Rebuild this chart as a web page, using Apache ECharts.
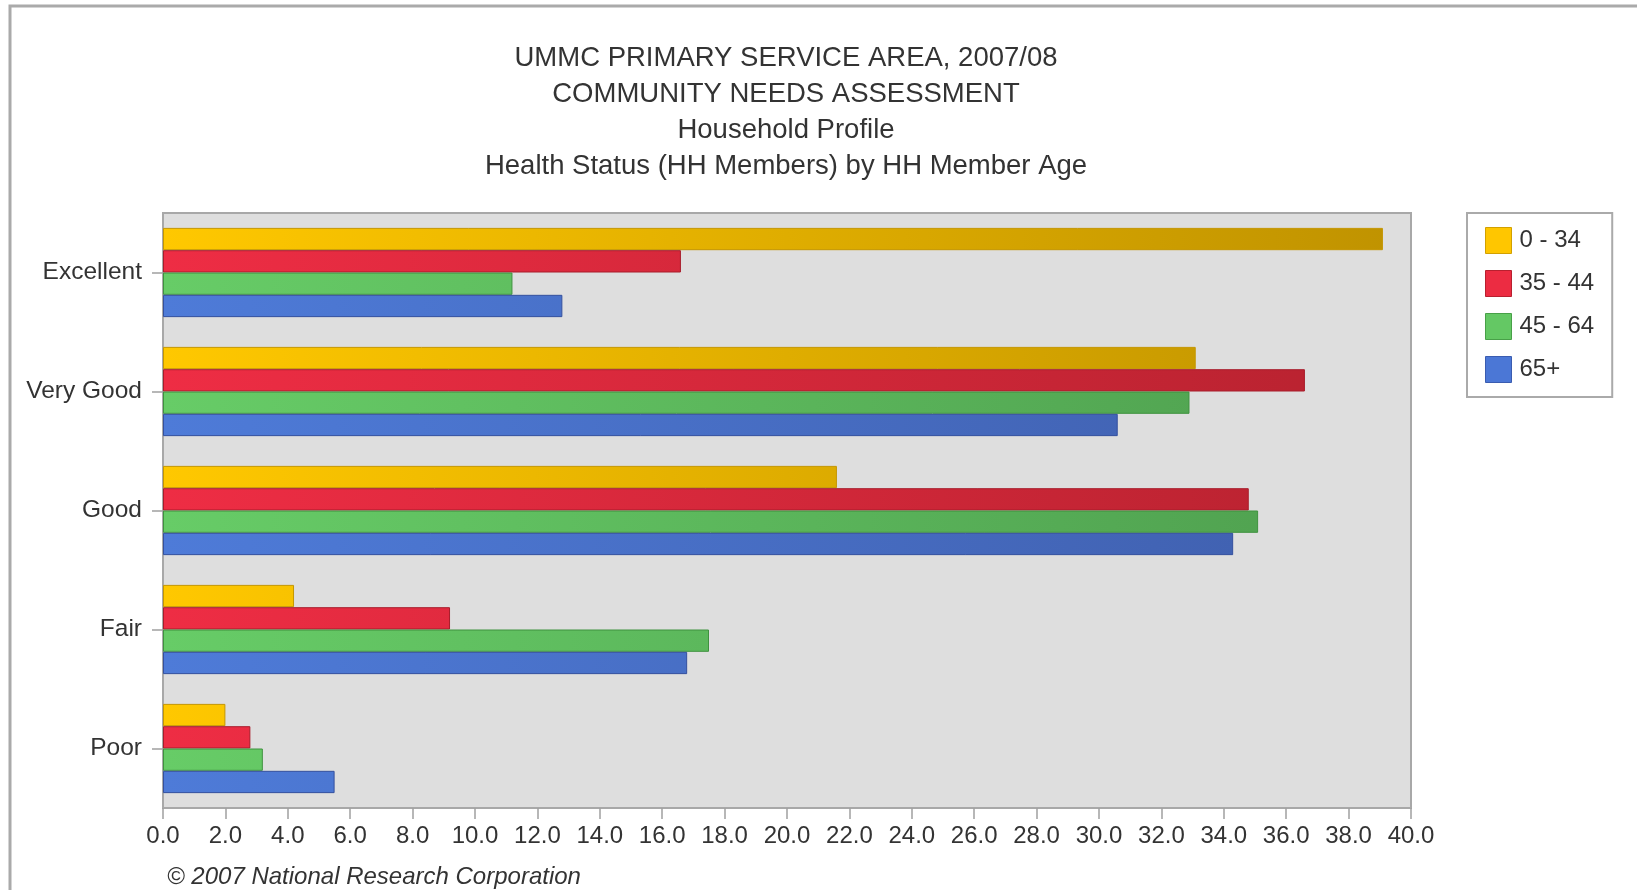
<!DOCTYPE html>
<html>
<head>
<meta charset="utf-8">
<script src="https://cdn.jsdelivr.net/npm/echarts@6/dist/echarts.min.js"></script>
<style>
  html, body { margin: 0; padding: 0; background: #ffffff; }
  #chart { width: 1637px; height: 890px; }
</style>
</head>
<body>
<div id="chart"></div>
<script>
// ---- Data ----
const categories = ['Excellent', 'Very Good', 'Good', 'Fair', 'Poor'];
const seriesNames = ['0 - 34', '35 - 44', '45 - 64', '65+'];
const age0to34 = [39.1, 33.1, 21.6, 4.2, 2.0];
const age35to44 = [16.6, 36.6, 34.8, 9.2, 2.8];
const age45to64 = [11.2, 32.9, 35.1, 17.5, 3.2];
const age65plus = [12.8, 30.6, 34.3, 16.8, 5.5];
const titleLines = [
  'UMMC PRIMARY SERVICE AREA, 2007/08',
  'COMMUNITY NEEDS ASSESSMENT',
  'Household Profile',
  'Health Status (HH Members) by HH Member Age'
];
const footerText = '\u00A9 2007 National Research Corporation';

// ---- Styling ----
const FONT = '"Liberation Sans", Arial, sans-serif';
const plotLeft = 163, plotTop = 213, plotWidth = 1248, plotHeight = 595;
const palette = [
  { light: '#FFC800', dark: '#BF9200', border: '#C49600', flat: '#FFC600', flatBorder: '#D2A000' },
  { light: '#EE2D44', dark: '#B6222F', border: '#A81C2A', flat: '#EC2C42', flatBorder: '#B8202F' },
  { light: '#67CC67', dark: '#4E9E4E', border: '#3F923F', flat: '#64C864', flatBorder: '#48A048' },
  { light: '#4E7BD8', dark: '#3F5EAC', border: '#34509E', flat: '#4B77D6', flatBorder: '#3A5CB0' }
];
const valueSets = [age0to34, age35to44, age45to64, age65plus];

function grad(p) {
  return {
    type: 'linear', x: plotLeft, y: 0, x2: plotLeft + plotWidth, y2: 0, global: true,
    colorStops: [{ offset: 0, color: p.light }, { offset: 1, color: p.dark }]
  };
}

const series = seriesNames.map((name, i) => ({
  name: name,
  type: 'bar',
  data: valueSets[i],
  barGap: '0%',
  barCategoryGap: '25%',
  itemStyle: { color: grad(palette[i]), borderColor: palette[i].border, borderWidth: 1 },
  emphasis: { disabled: true }
}));

const chart = echarts.init(document.getElementById('chart'), null, { renderer: 'canvas' });
chart.setOption({
  animation: false,
  backgroundColor: '#ffffff',
  textStyle: { fontFamily: FONT },
  title: [
    {
      text: titleLines.join('\n'),
      left: 786, top: 40, textAlign: 'center', padding: 0,
      textStyle: { fontFamily: FONT, fontSize: 27.5, fontWeight: 'normal', color: '#333333', lineHeight: 36 }
    },
    {
      text: footerText,
      left: 167, top: 865, padding: 0,
      textStyle: { fontFamily: FONT, fontSize: 24, fontWeight: 'normal', fontStyle: 'italic', color: '#333333' }
    }
  ],
  graphic: [
    {
      type: 'rect', z: -10, silent: true,
      shape: { x: 10, y: 6, width: 1800, height: 1000 },
      style: { fill: 'none', stroke: '#AAAAAA', lineWidth: 3 }
    }
  ],
  legend: {
    orient: 'vertical',
    left: 1467, top: 213,
    padding: [14, 18, 14, 18],
    itemWidth: 26, itemHeight: 26, itemGap: 16,
    borderColor: '#AAAAAA', borderWidth: 2,
    backgroundColor: '#ffffff',
    icon: 'rect',
    selectedMode: false,
    textStyle: { fontFamily: FONT, fontSize: 24, color: '#333333', padding: [0, 0, 0, 3] },
    data: seriesNames.map((n, i) => ({
      name: n,
      itemStyle: { color: palette[i].flat, borderColor: palette[i].flatBorder, borderWidth: 1 }
    }))
  },
  grid: {
    left: plotLeft, top: plotTop, width: plotWidth, height: plotHeight,
    show: true, backgroundColor: '#DEDEDE', borderColor: '#A8A8A8', borderWidth: 2,
    containLabel: false
  },
  xAxis: {
    type: 'value', min: 0, max: 40, interval: 2,
    axisLine: { show: false },
    axisTick: { show: true, length: 11, lineStyle: { color: '#A0A0A0', width: 1.5 } },
    splitLine: { show: false },
    axisLabel: {
      formatter: v => v.toFixed(1),
      fontFamily: FONT, fontSize: 24, color: '#333333', margin: 16
    }
  },
  yAxis: {
    type: 'category', data: categories, inverse: true,
    axisLine: { show: false },
    axisTick: { show: true, alignWithLabel: true, length: 11, lineStyle: { color: '#A0A0A0', width: 1.5 } },
    axisLabel: { fontFamily: FONT, fontSize: 24.5, color: '#333333', margin: 21 }
  },
  series: series
});
</script>
</body>
</html>
